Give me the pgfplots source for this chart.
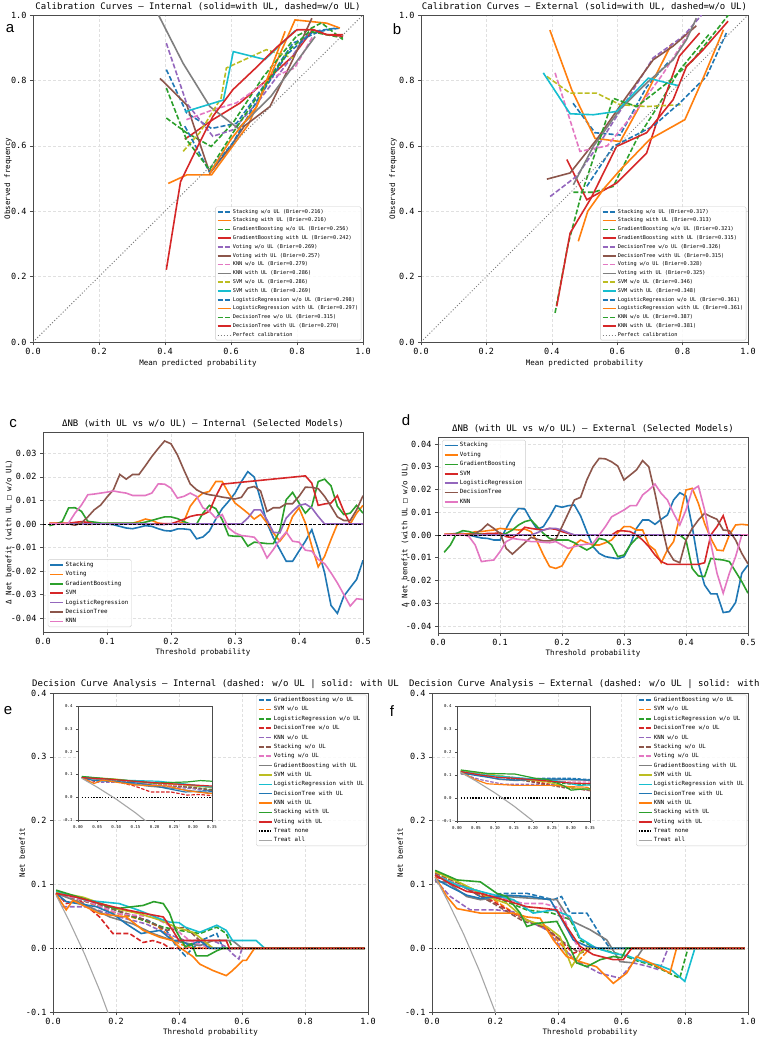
\documentclass[border=0pt]{standalone}
\usepackage{pgfplots}
\pgfplotsset{compat=1.18}
\usepackage{fontspec}
\setmainfont{DejaVu Sans Mono}
\newfontfamily\lsans{Liberation Sans}
\newcommand\fs[1]{\fontsize{#1}{#1}\selectfont}
\definecolor{C0}{HTML}{1F77B4}
\definecolor{C1}{HTML}{FF7F0E}
\definecolor{C2}{HTML}{2CA02C}
\definecolor{C3}{HTML}{D62728}
\definecolor{C4}{HTML}{9467BD}
\definecolor{C5}{HTML}{8C564B}
\definecolor{C6}{HTML}{E377C2}
\definecolor{C7}{HTML}{7F7F7F}
\definecolor{C8}{HTML}{BCBD22}
\definecolor{C9}{HTML}{17BECF}
\pgfplotsset{
  sol/.style={line width=1.6pt},
  das/.style={line width=1.6pt, dash pattern=on 5pt off 2.2pt},
  px/.style={x tick label style={/pgf/number format/fixed, /pgf/number format/fixed zerofill, /pgf/number format/precision=#1}},
  py/.style={y tick label style={/pgf/number format/fixed, /pgf/number format/fixed zerofill, /pgf/number format/precision=#1}},
  base/.style={
    scale only axis, scaled ticks=false,
    axis line style={black!70, line width=0.8pt},
    tick style={black!70, line width=0.6pt},
    tick align=outside, major tick length=3pt, tick pos=left,
    grid=major, grid style={densely dashed, black!12, line width=0.4pt},
    /pgf/number format/assume math mode=true,
    tick label style={font=\fs{8.5}},
    label style={font=\fs{7.5}},
    title style={font=\fs{9}, at={(axis description cs:0.5,1)}, anchor=center, yshift=2pt},
    legend cell align=left,
    legend image code/.code={\draw[##1] (0pt,0pt) -- (13pt,0pt);},
  },
  lg/.style={legend style={font=\fs{#1}, draw=black!20, fill=white, fill opacity=0.85, text opacity=1,
     rounded corners=1.5pt, inner sep=1.5pt, row sep=1.6pt,
     nodes={inner xsep=1.5pt, inner ysep=1pt, text height=0.75*#1 pt, text depth=0.25*#1 pt}}},
  inset/.style={scale only axis, scaled ticks=false, axis background/.style={fill=white},
    axis line style={black!70,line width=0.6pt}, tick style={black!70, line width=0.4pt},
    tick align=outside, major tick length=2pt, tick pos=left,
    tick label style={font=\fs{4}}, /pgf/number format/assume math mode=true,
    xmin=0,xmax=0.35,ymin=-0.1,ymax=0.4,
    xtick={0,0.05,0.1,0.15,0.2,0.25,0.3,0.35}, ytick={-0.1,0,0.1,0.2,0.3,0.4},
    px=2, py=1,
    sol/.style={line width=1.2pt}, das/.style={line width=1.2pt, dash pattern=on 3.5pt off 1.6pt}},
}
% ---------- DCA internal ----------
\newcommand\dcaE{%
\addplot[das,C0] coordinates {(0.01,0.086)(0.05,0.08)(0.1,0.074)(0.2,0.055)(0.3,0.044)(0.36,0.028)(0.39,0.004)(0.42,-0.012)(0.444,0)(0.47,0.012)(0.52,0.023)(0.54,0)(0.99,0)};
\addplot[das,C1] coordinates {(0.01,0.087)(0.1,0.074)(0.2,0.055)(0.286,0.044)(0.33,0.035)(0.36,0.023)(0.4,0.007)(0.444,0)(0.99,0)};
\addplot[das,C2] coordinates {(0.01,0.088)(0.12,0.074)(0.25,0.05)(0.35,0.033)(0.4,0.028)(0.466,0.023)(0.52,0.033)(0.55,0.023)(0.57,0)(0.99,0)};
\addplot[das,C3] coordinates {(0.01,0.087)(0.042,0.07)(0.085,0.075)(0.148,0.049)(0.19,0.023)(0.243,0.023)(0.286,0.009)(0.317,0.012)(0.35,0.007)(0.37,0)(0.99,0)};
\addplot[das,C4] coordinates {(0.01,0.086)(0.032,0.065)(0.106,0.065)(0.21,0.049)(0.296,0.038)(0.36,0.023)(0.42,0.012)(0.508,0.012)(0.55,0.002)(0.57,-0.009)(0.59,-0.017)(0.6,0)(0.99,0)};
\addplot[das,C5] coordinates {(0.01,0.086)(0.1,0.074)(0.2,0.06)(0.296,0.044)(0.36,0.028)(0.42,0.033)(0.466,0.012)(0.508,0)(0.99,0)};
\addplot[das,C6] coordinates {(0.01,0.086)(0.106,0.074)(0.21,0.054)(0.317,0.049)(0.38,0.033)(0.434,0.012)(0.476,0.004)(0.508,0)(0.99,0)};
\addplot[sol,C7] coordinates {(0.01,0.086)(0.095,0.07)(0.18,0.049)(0.254,0.038)(0.317,0.023)(0.38,0.012)(0.466,0.004)(0.508,0.012)(0.57,0.012)(0.6,0)(0.99,0)};
\addplot[sol,C8] coordinates {(0.01,0.088)(0.095,0.08)(0.2,0.062)(0.275,0.054)(0.34,0.044)(0.39,0.033)(0.444,0.025)(0.466,0.017)(0.508,0)(0.99,0)};
\addplot[sol,C9] coordinates {(0.01,0.09)(0.106,0.075)(0.21,0.07)(0.275,0.059)(0.34,0.046)(0.37,0.041)(0.4,0.04)(0.42,0.033)(0.466,0.025)(0.52,0.036)(0.55,0.028)(0.57,0.012)(0.645,0.012)(0.672,0)(0.99,0)};
\addplot[sol,C0] coordinates {(0.01,0.086)(0.042,0.073)(0.138,0.065)(0.19,0.054)(0.233,0.038)(0.28,0.023)(0.34,0.028)(0.38,0.012)(0.407,0.012)(0.434,0.004)(0.466,0.012)(0.497,0)(0.99,0)};
\addplot[sol,C1] coordinates {(0.01,0.085)(0.042,0.06)(0.063,0.075)(0.148,0.054)(0.233,0.049)(0.286,0.028)(0.34,0.017)(0.38,0.012)(0.4,0.002)(0.444,-0.013)(0.466,-0.025)(0.508,-0.035)(0.55,-0.043)(0.57,-0.035)(0.603,-0.019)(0.614,-0.019)(0.64,0)(0.99,0)};
\addplot[sol,C2] coordinates {(0.01,0.091)(0.095,0.078)(0.2,0.062)(0.286,0.067)(0.32,0.073)(0.35,0.07)(0.37,0.055)(0.39,0.028)(0.42,0.002)(0.44,0.007)(0.455,-0.012)(0.49,-0.012)(0.52,-0.004)(0.54,0)(0.99,0)};
\addplot[sol,C3] coordinates {(0.01,0.086)(0.074,0.08)(0.148,0.07)(0.233,0.06)(0.296,0.054)(0.35,0.049)(0.38,0.028)(0.4,0.012)(0.487,0.012)(0.55,0.012)(0.56,0)(0.99,0)};
\addplot[black, line width=1.3pt, dash pattern=on 1.3pt off 1.6pt] coordinates {(0.01,0)(0.99,0)};
\addplot[black!35, line width=1.1pt] coordinates {(0.01,0.0828)(0.05,0.0442)(0.1,-0.0089)(0.15,-0.0683)(0.2,-0.135)(0.25,-0.2107)(0.3,-0.297)(0.35,-0.397)};
}
% ---------- DCA external ----------
\newcommand\dcaF{%
\addplot[das,C0] coordinates {(0.01,0.107)(0.1,0.096)(0.153,0.081)(0.226,0.086)(0.3,0.086)(0.384,0.076)(0.41,0.081)(0.437,0.055)(0.49,0.055)(0.53,0.023)(0.563,0)(0.99,0)};
\addplot[das,C1] coordinates {(0.01,0.118)(0.11,0.096)(0.195,0.076)(0.279,0.049)(0.363,0.029)(0.405,0.008)(0.458,-0.023)(0.5,0)(0.99,0)};
\addplot[das,C2] coordinates {(0.01,0.115)(0.1,0.098)(0.2,0.08)(0.3,0.06)(0.38,0.055)(0.437,0.045)(0.47,0.012)(0.52,0)(0.6,-0.01)(0.65,-0.02)(0.7,-0.027)(0.784,-0.047)(0.81,0)(0.99,0)};
\addplot[das,C3] coordinates {(0.01,0.112)(0.11,0.096)(0.183,0.076)(0.279,0.049)(0.363,0.031)(0.405,0.013)(0.447,-0.008)(0.49,0)(0.99,0)};
\addplot[das,C4] coordinates {(0.01,0.107)(0.058,0.081)(0.121,0.06)(0.205,0.06)(0.258,0.057)(0.3,0.044)(0.363,0.029)(0.405,0.003)(0.468,-0.023)(0.53,-0.039)(0.595,-0.047)(0.637,-0.023)(0.68,-0.028)(0.72,-0.034)(0.747,0)(0.99,0)};
\addplot[das,C5] coordinates {(0.01,0.117)(0.1,0.096)(0.195,0.07)(0.29,0.042)(0.353,0.034)(0.405,0.013)(0.468,-0.008)(0.51,0)(0.99,0)};
\addplot[das,C6] coordinates {(0.01,0.115)(0.1,0.096)(0.205,0.081)(0.29,0.07)(0.353,0.07)(0.405,0.063)(0.437,0.023)(0.468,-0.003)(0.49,0)(0.99,0)};
\addplot[sol,C7] coordinates {(0.01,0.104)(0.047,0.104)(0.11,0.081)(0.153,0.076)(0.237,0.081)(0.32,0.078)(0.395,0.076)(0.437,0.044)(0.5,0.029)(0.553,0.013)(0.595,-0.021)(0.637,-0.023)(0.668,0)(0.99,0)};
\addplot[sol,C8] coordinates {(0.01,0.12)(0.1,0.1)(0.174,0.081)(0.237,0.07)(0.3,0.044)(0.363,0.034)(0.405,0.018)(0.442,-0.029)(0.468,-0.008)(0.49,0)(0.99,0)};
\addplot[sol,C9] coordinates {(0.01,0.115)(0.079,0.099)(0.153,0.089)(0.258,0.076)(0.32,0.055)(0.384,0.06)(0.437,0.05)(0.468,0.016)(0.52,0)(0.574,-0.008)(0.62,-0.012)(0.66,-0.02)(0.72,-0.027)(0.76,-0.035)(0.8,-0.052)(0.832,0)(0.99,0)};
\addplot[sol,C0] coordinates {(0.01,0.109)(0.058,0.096)(0.11,0.083)(0.153,0.078)(0.237,0.083)(0.31,0.081)(0.374,0.076)(0.405,0.05)(0.447,0.013)(0.49,0.003)(0.53,0)(0.99,0)};
\addplot[sol,C1] coordinates {(0.01,0.112)(0.047,0.081)(0.079,0.062)(0.153,0.055)(0.258,0.055)(0.3,0.049)(0.342,0.047)(0.384,0.013)(0.426,-0.013)(0.468,-0.021)(0.52,-0.029)(0.574,-0.055)(0.616,-0.039)(0.647,-0.013)(0.7,-0.025)(0.753,-0.039)(0.774,0)(0.99,0)};
\addplot[sol,C2] coordinates {(0.01,0.122)(0.079,0.107)(0.153,0.104)(0.205,0.086)(0.237,0.081)(0.279,0.055)(0.3,0.034)(0.332,0.039)(0.395,0.042)(0.426,0.013)(0.458,-0.023)(0.49,-0.029)(0.532,-0.018)(0.574,-0.013)(0.6,-0.015)(0.616,0)(0.99,0)};
\addplot[sol,C3] coordinates {(0.01,0.115)(0.058,0.101)(0.11,0.089)(0.153,0.086)(0.226,0.076)(0.3,0.065)(0.363,0.062)(0.395,0.06)(0.426,0.034)(0.468,0.003)(0.51,-0.01)(0.574,-0.018)(0.605,-0.018)(0.632,0)(0.99,0)};
\addplot[black, line width=1.3pt, dash pattern=on 1.3pt off 1.6pt] coordinates {(0.01,0)(0.99,0)};
\addplot[black!35, line width=1.1pt] coordinates {(0.01,0.1111)(0.05,0.0737)(0.1,0.0222)(0.15,-0.0353)(0.2,-0.1)(0.25,-0.1733)(0.3,-0.2571)(0.35,-0.3538)};
}
\begin{document}
\begin{tikzpicture}[x=1pt,y=1pt]
\path[use as bounding box] (0,0) rectangle (760,-1039);
% ================= a =================
\begin{axis}[base, at={(33pt,-15pt)}, anchor=north west, width=330pt, height=327pt,
  xmin=0,xmax=1,ymin=0,ymax=1, xtick={0,0.2,0.4,0.6,0.8,1}, ytick={0,0.2,0.4,0.6,0.8,1},
  px=1, py=1,
  title={Calibration Curves — Internal (solid=with UL, dashed=w/o UL)},
  xlabel={Mean predicted probability}, ylabel={Observed frequency},
  xlabel style={at={(axis description cs:0.5,-0.0642)}, anchor=center},
  ylabel style={at={(axis description cs:-0.0758,0.5)}, anchor=center},
  lg=5.2, legend style={at={(0.995,0.005)}, anchor=south east}]
\addplot[das,C0] coordinates {(0.404,0.833)(0.466,0.70)(0.541,0.653)(0.617,0.669)(0.697,0.78)(0.788,0.914)(0.869,0.95)(0.929,0.96)};
\addlegendentry{Stacking w/o UL (Brier=0.216)}
\addplot[sol,C1] coordinates {(0.41,0.485)(0.466,0.511)(0.541,0.511)(0.652,0.664)(0.718,0.811)(0.794,0.985)(0.89,0.975)(0.93,0.96)};
\addlegendentry{Stacking with UL (Brier=0.216)}
\addplot[das,C2] coordinates {(0.404,0.685)(0.465,0.64)(0.54,0.598)(0.606,0.67)(0.697,0.81)(0.798,0.935)(0.874,0.976)(0.939,0.925)};
\addlegendentry{GradientBoosting w/o UL (Brier=0.256)}
\addplot[sol,C3] coordinates {(0.46,0.62)(0.545,0.68)(0.626,0.73)(0.707,0.80)(0.788,0.875)(0.848,0.955)(0.889,0.94)(0.94,0.94)};
\addlegendentry{GradientBoosting with UL (Brier=0.242)}
\addplot[das,C4] coordinates {(0.404,0.914)(0.465,0.731)(0.545,0.629)(0.606,0.649)(0.687,0.741)(0.778,0.863)(0.838,0.95)};
\addlegendentry{Voting w/o UL (Brier=0.269)}
\addplot[sol,C5] coordinates {(0.385,0.806)(0.466,0.725)(0.536,0.516)(0.6,0.6)(0.64,0.66)(0.718,0.72)(0.784,0.857)(0.845,0.99)};
\addlegendentry{Voting with UL (Brier=0.257)}
\addplot[das,C6] coordinates {(0.465,0.68)(0.545,0.71)(0.616,0.731)(0.727,0.81)(0.793,0.838)(0.848,0.935)};
\addlegendentry{KNN w/o UL (Brier=0.279)}
\addplot[sol,C7] coordinates {(0.36,1.04)(0.455,0.852)(0.536,0.72)(0.622,0.653)(0.72,0.75)(0.855,0.934)};
\addlegendentry{KNN with UL (Brier=0.286)}
\addplot[das,C8] coordinates {(0.455,0.583)(0.505,0.64)(0.57,0.746)(0.586,0.838)(0.707,0.894)(0.788,0.868)};
\addlegendentry{SVM w/o UL (Brier=0.286)}
\addplot[sol,C9] coordinates {(0.46,0.704)(0.577,0.74)(0.607,0.888)(0.703,0.864)(0.794,0.952)};
\addlegendentry{SVM with UL (Brier=0.269)}
\addplot[das,C0] coordinates {(0.46,0.66)(0.535,0.52)(0.606,0.61)(0.68,0.74)(0.77,0.88)(0.85,0.95)(0.92,0.96)};
\addlegendentry{LogisticRegression w/o UL (Brier=0.298)}
\addplot[sol,C1] coordinates {(0.535,0.515)(0.6,0.62)(0.678,0.72)(0.764,0.95)};
\addlegendentry{LogisticRegression with UL (Brier=0.297)}
\addplot[das,C2] coordinates {(0.404,0.777)(0.465,0.619)(0.535,0.527)(0.606,0.64)(0.687,0.761)(0.778,0.894)(0.838,0.95)(0.939,0.93)};
\addlegendentry{DecisionTree w/o UL (Brier=0.315)}
\addplot[sol,C3] coordinates {(0.404,0.221)(0.447,0.49)(0.5,0.6)(0.545,0.69)(0.606,0.772)(0.677,0.84)(0.737,0.90)(0.80,0.955)(0.85,0.955)(0.89,0.94)(0.94,0.935)};
\addlegendentry{DecisionTree with UL (Brier=0.270)}
\addplot[black!50, line width=1pt, dash pattern=on 1pt off 2pt] coordinates {(0,0)(1,1)};
\addlegendentry{Perfect calibration}
\end{axis}
% ================= b =================
\begin{axis}[base, at={(421pt,-15pt)}, anchor=north west, width=327pt, height=327pt,
  xmin=0,xmax=1,ymin=0,ymax=1, xtick={0,0.2,0.4,0.6,0.8,1}, ytick={0,0.2,0.4,0.6,0.8,1},
  px=1, py=1,
  title={Calibration Curves — External (solid=with UL, dashed=w/o UL)},
  xlabel={Mean predicted probability}, ylabel={Observed frequency},
  xlabel style={at={(axis description cs:0.5,-0.0642)}, anchor=center},
  ylabel style={at={(axis description cs:-0.0856,0.5)}, anchor=center},
  lg=5.2, legend style={at={(0.995,0.005)}, anchor=south east}]
\addplot[das,C0] coordinates {(0.465,0.73)(0.532,0.64)(0.609,0.633)(0.69,0.78)(0.76,0.86)};
\addlegendentry{Stacking w/o UL (Brier=0.317)}
\addplot[sol,C1] coordinates {(0.394,0.954)(0.461,0.771)(0.532,0.623)(0.609,0.613)(0.69,0.76)(0.767,0.913)};
\addlegendentry{Stacking with UL (Brier=0.313)}
\addplot[das,C2] coordinates {(0.466,0.458)(0.527,0.458)(0.588,0.476)(0.66,0.62)(0.73,0.73)(0.79,0.83)(0.88,0.94)};
\addlegendentry{GradientBoosting w/o UL (Brier=0.321)}
\addplot[sol,C3] coordinates {(0.446,0.558)(0.507,0.435)(0.598,0.486)(0.69,0.578)(0.75,0.761)(0.79,0.874)(0.852,0.945)};
\addlegendentry{GradientBoosting with UL (Brier=0.315)}
\addplot[das,C4] coordinates {(0.395,0.445)(0.476,0.507)(0.547,0.609)(0.63,0.74)(0.71,0.869)(0.802,0.935)(0.858,1.0)};
\addlegendentry{DecisionTree w/o UL (Brier=0.326)}
\addplot[sol,C5] coordinates {(0.385,0.498)(0.456,0.517)(0.537,0.619)(0.629,0.751)(0.71,0.863)(0.771,0.905)(0.842,0.967)};
\addlegendentry{DecisionTree with UL (Brier=0.315)}
\addplot[das,C6] coordinates {(0.41,0.823)(0.486,0.583)(0.57,0.6)(0.66,0.71)(0.74,0.82)(0.82,0.945)};
\addlegendentry{Voting w/o UL (Brier=0.328)}
\addplot[sol,C7] coordinates {(0.466,0.481)(0.527,0.598)(0.608,0.711)(0.69,0.792)(0.771,0.863)(0.812,0.925)(0.842,0.99)};
\addlegendentry{Voting with UL (Brier=0.325)}
\addplot[das,C8] coordinates {(0.385,0.812)(0.456,0.761)(0.537,0.761)(0.608,0.726)(0.69,0.72)(0.797,0.726)};
\addlegendentry{SVM w/o UL (Brier=0.346)}
\addplot[sol,C9] coordinates {(0.374,0.823)(0.456,0.698)(0.527,0.695)(0.598,0.705)(0.695,0.807)(0.786,0.784)};
\addlegendentry{SVM with UL (Brier=0.348)}
\addplot[das,C0] coordinates {(0.507,0.476)(0.588,0.598)(0.71,0.66)(0.79,0.73)(0.873,0.812)(0.934,0.945)};
\addlegendentry{LogisticRegression w/o UL (Brier=0.361)}
\addplot[sol,C1] coordinates {(0.481,0.308)(0.51,0.40)(0.56,0.47)(0.609,0.526)(0.70,0.62)(0.807,0.68)(0.86,0.80)(0.925,0.955)};
\addlegendentry{LogisticRegression with UL (Brier=0.361)}
\addplot[das,C2] coordinates {(0.41,0.089)(0.45,0.30)(0.49,0.45)(0.54,0.60)(0.588,0.745)(0.66,0.72)(0.75,0.79)(0.83,0.86)(0.94,1.0)};
\addlegendentry{KNN w/o UL (Brier=0.387)}
\addplot[sol,C3] coordinates {(0.415,0.109)(0.456,0.333)(0.52,0.44)(0.598,0.598)(0.69,0.64)(0.771,0.741)(0.812,0.843)(0.863,0.894)(0.939,0.981)};
\addlegendentry{KNN with UL (Brier=0.381)}
\addplot[black!50, line width=1pt, dash pattern=on 1pt off 2pt] coordinates {(0,0)(1,1)};
\addlegendentry{Perfect calibration}
\end{axis}
% ================= c =================
\begin{axis}[base, at={(43pt,-432pt)}, anchor=north west, width=320pt, height=200pt,
  xmin=0,xmax=0.5,ymin=-0.0458,ymax=0.039, xtick={0,0.1,0.2,0.3,0.4,0.5},
  ytick={-0.04,-0.03,-0.02,-0.01,0,0.01,0.02,0.03},
  px=1, py=2,
  title={ΔNB (with UL vs w/o UL) — Internal (Selected Models)},
  xlabel={Threshold probability}, ylabel={Δ Net benefit (with UL □ w/o UL)},
  xlabel style={at={(axis description cs:0.5,-0.1)}, anchor=center},
  ylabel style={at={(axis description cs:-0.106,0.5)}, anchor=center},
  lg=5.8, legend style={at={(0.015,0.025)}, anchor=south west}]
\addplot[sol,C0] coordinates {(0.01,0)(0.06,0)(0.07,0.0002)(0.08,0.0002)(0.09,0.0001)(0.10,0)(0.11,-0.0003)(0.12,-0.001)(0.13,-0.0017)(0.14,-0.002)(0.15,-0.0014)(0.16,-0.0007)(0.17,-0.001)(0.18,-0.002)(0.19,-0.0028)(0.20,-0.003)(0.21,-0.0021)(0.22,-0.0021)(0.23,-0.0024)(0.24,-0.0063)(0.25,-0.0055)(0.26,-0.003)(0.27,0.0021)(0.28,0.0065)(0.29,0.0096)(0.30,0.0131)(0.31,0.018)(0.32,0.0222)(0.33,0.0199)(0.34,0.0103)(0.35,0.0004)(0.36,-0.0059)(0.37,-0.0108)(0.38,-0.0158)(0.39,-0.0158)(0.40,-0.0115)(0.41,-0.0073)(0.42,-0.0024)(0.43,-0.0108)(0.44,-0.0207)(0.45,-0.0345)(0.46,-0.0379)(0.47,-0.0306)(0.48,-0.027)(0.49,-0.0235)(0.50,-0.0154)};
\addlegendentry{Stacking}
\addplot[sol,C1] coordinates {(0.01,0.0003)(0.05,0.0004)(0.07,-0.0002)(0.1,0.0002)(0.14,0.0003)(0.15,0.0011)(0.16,0.0021)(0.17,0.0015)(0.18,0.0004)(0.19,0)(0.21,0)(0.22,0.001)(0.23,0.0075)(0.24,0.011)(0.25,0.0131)(0.26,0.0138)(0.27,0.018)(0.28,0.018)(0.29,0.0131)(0.30,0.0089)(0.31,0.0068)(0.32,0.0046)(0.33,0.0021)(0.34,0.004)(0.35,0.0004)(0.36,-0.0038)(0.37,-0.0073)(0.38,-0.0038)(0.39,0.0032)(0.40,0.0068)(0.41,0.0004)(0.42,-0.0094)(0.43,-0.0182)(0.44,-0.0137)(0.45,-0.0066)(0.46,0)(0.48,0)(0.49,0.0046)(0.50,0.0079)};
\addlegendentry{Voting}
\addplot[sol,C2] coordinates {(0.01,-0.0007)(0.02,0)(0.03,0.001)(0.04,0.0068)(0.05,0.0069)(0.06,0.0054)(0.07,0.0011)(0.08,0.0008)(0.09,0.0004)(0.15,0.0003)(0.16,0.0008)(0.17,0.0015)(0.18,0.0023)(0.19,0.003)(0.20,0.003)(0.21,0.0023)(0.22,0.001)(0.23,0)(0.24,0)(0.25,0.0046)(0.26,0.0079)(0.27,0.0065)(0.28,0.0018)(0.29,-0.0049)(0.30,-0.0052)(0.31,-0.0052)(0.32,-0.0094)(0.33,-0.0077)(0.34,-0.008)(0.35,-0.0083)(0.36,-0.0083)(0.37,-0.0027)(0.38,0.0103)(0.39,0.0134)(0.40,0.0089)(0.41,0.0046)(0.42,0.0075)(0.43,0.018)(0.44,0.019)(0.45,0.0162)(0.46,0.0075)(0.47,0.004)(0.48,0.0046)(0.49,0.0079)(0.50,0.0046)};
\addlegendentry{GradientBoosting}
\addplot[sol,C3] coordinates {(0.01,0.0002)(0.04,0.0003)(0.05,0.0007)(0.06,0.001)(0.07,0.0007)(0.08,0)(0.20,0.0001)(0.21,0.001)(0.22,0.002)(0.23,0.0032)(0.24,0.0038)(0.25,0.004)(0.26,0.0054)(0.27,0.0117)(0.28,0.0169)(0.41,0.0204)(0.42,0.0173)(0.43,0.0079)(0.44,0.0085)(0.45,0.0089)(0.46,0.012)(0.47,0.0054)(0.48,0)(0.50,0)};
\addlegendentry{SVM}
\addplot[sol,C4] coordinates {(0.01,0)(0.17,0)(0.18,-0.0003)(0.19,-0.0002)(0.2,0)(0.31,0)(0.32,0.0025)(0.33,0.006)(0.34,0.006)(0.35,0.0018)(0.36,-0.0035)(0.37,-0.0038)(0.38,0.0025)(0.39,0.0054)(0.40,0.0079)(0.41,0.0085)(0.42,0.0068)(0.43,0.0032)(0.44,0)(0.50,0)};
\addlegendentry{LogisticRegression}
\addplot[sol,C5] coordinates {(0.01,0)(0.04,0)(0.05,-0.0005)(0.06,0.0004)(0.07,0.003)(0.08,0.006)(0.09,0.008)(0.10,0.0114)(0.11,0.0145)(0.12,0.021)(0.13,0.019)(0.14,0.021)(0.15,0.021)(0.16,0.0247)(0.17,0.0286)(0.18,0.032)(0.19,0.0352)(0.20,0.034)(0.21,0.0293)(0.22,0.023)(0.23,0.017)(0.24,0.0145)(0.25,0.0131)(0.26,0.0124)(0.27,0.012)(0.28,0.0114)(0.29,0.011)(0.30,0.0106)(0.31,0.0113)(0.32,0.0152)(0.33,0.0159)(0.34,0.014)(0.35,0.0053)(0.36,0.0069)(0.37,0.0069)(0.38,0.0086)(0.39,0.0086)(0.40,0.0117)(0.41,0.0156)(0.42,0.0155)(0.43,0.015)(0.44,0.0117)(0.45,0.0075)(0.46,0.003)(0.47,0.0015)(0.48,0.0015)(0.49,0.006)(0.50,0.012)};
\addlegendentry{DecisionTree}
\addplot[sol,C6] coordinates {(0.01,0)(0.03,0)(0.04,0.0004)(0.05,0.0046)(0.06,0.008)(0.07,0.0124)(0.08,0.0127)(0.09,0.0131)(0.10,0.0135)(0.11,0.014)(0.12,0.0135)(0.13,0.0131)(0.14,0.0121)(0.15,0.0121)(0.16,0.0121)(0.17,0.0131)(0.18,0.017)(0.19,0.0169)(0.20,0.0152)(0.21,0.011)(0.22,0.0117)(0.23,0.0131)(0.24,0.0117)(0.25,0.0068)(0.26,0.0054)(0.27,0.0025)(0.28,0.004)(0.29,-0.0017)(0.30,-0.0038)(0.31,-0.0049)(0.32,-0.0052)(0.33,-0.0056)(0.34,-0.0087)(0.35,-0.0144)(0.36,-0.0108)(0.37,-0.0066)(0.38,-0.0034)(0.39,-0.0073)(0.40,-0.0077)(0.41,-0.0111)(0.42,-0.0115)(0.43,-0.015)(0.44,-0.0168)(0.45,-0.0207)(0.46,-0.025)(0.47,-0.0299)(0.48,-0.0348)(0.49,-0.0317)(0.50,-0.032)};
\addlegendentry{KNN}
\addplot[black, line width=0.9pt, dash pattern=on 3pt off 1.5pt, forget plot] coordinates {(0,0)(0.5,0)};
\end{axis}
% ================= d =================
\begin{axis}[base, at={(438pt,-437pt)}, anchor=north west, width=310pt, height=196pt,
  xmin=0,xmax=0.5,ymin=-0.0431,ymax=0.0431, xtick={0,0.1,0.2,0.3,0.4,0.5},
  ytick={-0.04,-0.03,-0.02,-0.01,0,0.01,0.02,0.03,0.04},
  px=1, py=2,
  title={ΔNB (with UL vs w/o UL) — External (Selected Models)},
  xlabel={Threshold probability}, ylabel={Δ Net benefit (with UL □ w/o UL)},
  xlabel style={at={(axis description cs:0.5,-0.102)}, anchor=center},
  ylabel style={at={(axis description cs:-0.106,0.5)}, anchor=center},
  lg=5.8, legend style={at={(0.013,0.985)}, anchor=north west}]
\addplot[sol,C0] coordinates {(0.01,0)(0.02,0.0004)(0.03,0.0007)(0.04,0.0007)(0.05,0)(0.06,-0.0007)(0.07,-0.0013)(0.08,-0.0015)(0.09,-0.0022)(0.10,-0.0022)(0.11,0.0029)(0.12,0.008)(0.13,0.0117)(0.14,0.0114)(0.15,0.0066)(0.16,0.0025)(0.17,0.0037)(0.18,0.008)(0.19,0.0129)(0.20,0.0122)(0.21,0.0129)(0.22,0.0132)(0.23,0.0084)(0.24,0.0015)(0.25,-0.0051)(0.26,-0.0081)(0.27,-0.0095)(0.28,-0.01)(0.29,-0.0104)(0.30,-0.0095)(0.31,-0.0044)(0.32,0.0029)(0.33,0.0066)(0.34,0.0066)(0.35,0.0047)(0.36,0.0069)(0.37,0.0088)(0.38,0.0154)(0.39,0.0186)(0.40,0.0171)(0.41,0.0037)(0.42,-0.0125)(0.43,-0.022)(0.44,-0.0259)(0.45,-0.0259)(0.46,-0.0341)(0.47,-0.0337)(0.48,-0.0297)(0.49,-0.0168)(0.50,-0.0132)};
\addlegendentry{Stacking}
\addplot[sol,C1] coordinates {(0.01,0.0003)(0.05,0.0005)(0.06,0.0015)(0.07,0.0015)(0.08,0.0019)(0.09,0.0022)(0.10,0.0029)(0.11,0.0026)(0.12,0.0025)(0.13,0.0022)(0.14,0.0026)(0.15,0.0015)(0.16,-0.0029)(0.17,-0.0088)(0.18,-0.0139)(0.19,-0.0147)(0.20,-0.0136)(0.21,-0.0088)(0.22,-0.0044)(0.23,-0.0022)(0.24,-0.0034)(0.25,-0.0044)(0.26,-0.0044)(0.27,-0.0034)(0.28,-0.0022)(0.29,0.001)(0.30,0.0037)(0.31,0.0037)(0.32,0.0022)(0.33,0.0022)(0.34,-0.0044)(0.35,-0.0066)(0.36,-0.0122)(0.37,-0.0066)(0.38,-0.0029)(0.39,0.008)(0.40,0.0198)(0.41,0.0205)(0.42,0.0139)(0.43,0.0051)(0.44,-0.0015)(0.45,-0.0066)(0.46,-0.0069)(0.47,0)(0.48,0.0044)(0.49,0.0047)(0.50,0.0044)};
\addlegendentry{Voting}
\addplot[sol,C2] coordinates {(0.01,-0.0076)(0.02,-0.0044)(0.03,0.0007)(0.04,0.0019)(0.05,0.0015)(0.06,0.0007)(0.07,0.0004)(0.08,0.0004)(0.09,0.0004)(0.10,0)(0.11,0.0007)(0.12,0.0022)(0.13,0.0044)(0.14,0.0059)(0.15,0.0066)(0.16,0.0037)(0.17,0.0007)(0.18,-0.0015)(0.19,-0.0022)(0.20,-0.0022)(0.21,-0.0022)(0.22,-0.0034)(0.23,-0.0051)(0.24,-0.0066)(0.25,-0.0051)(0.26,-0.0015)(0.27,-0.0022)(0.28,-0.0044)(0.29,-0.0095)(0.30,-0.0088)(0.31,-0.0044)(0.32,-0.0015)(0.33,0)(0.39,0)(0.40,-0.0022)(0.41,-0.0147)(0.42,-0.018)(0.43,-0.0183)(0.44,-0.0103)(0.45,-0.0107)(0.46,-0.011)(0.47,-0.0117)(0.48,-0.0161)(0.49,-0.0205)(0.50,-0.0256)};
\addlegendentry{GradientBoosting}
\addplot[sol,C3] coordinates {(0.01,0.0003)(0.07,0.0003)(0.08,0.0007)(0.09,0.0007)(0.10,0.001)(0.11,-0.0007)(0.12,-0.0012)(0.13,0.0007)(0.14,0.0034)(0.15,0.0029)(0.16,0.0025)(0.17,0.0022)(0.18,0.0029)(0.19,0.0025)(0.20,0.0015)(0.21,0.0007)(0.22,0)(0.28,0)(0.29,0.0018)(0.30,0.0018)(0.31,0.0015)(0.32,0)(0.33,-0.0022)(0.34,-0.0051)(0.35,-0.0088)(0.36,-0.0117)(0.37,-0.0129)(0.42,-0.0129)(0.43,-0.0122)(0.44,0)(0.45,0.0037)(0.46,0.0085)(0.47,0)(0.50,0)};
\addlegendentry{SVM}
\addplot[sol,C4] coordinates {(0.01,0)(0.15,0)(0.16,0.001)(0.17,0.0022)(0.18,0.0029)(0.19,0.0029)(0.20,0.0022)(0.21,0.001)(0.22,0)(0.50,0)};
\addlegendentry{LogisticRegression}
\addplot[sol,C5] coordinates {(0.01,0)(0.05,0)(0.06,0.0007)(0.07,0.0022)(0.08,0.0048)(0.09,0.0029)(0.10,0.0007)(0.11,-0.0059)(0.12,-0.0084)(0.13,-0.0059)(0.14,-0.0034)(0.15,-0.001)(0.16,-0.0019)(0.17,-0.0026)(0.18,-0.0026)(0.19,-0.0019)(0.20,0.0037)(0.21,0.0095)(0.22,0.0154)(0.23,0.0166)(0.24,0.0242)(0.25,0.03)(0.26,0.0337)(0.27,0.0335)(0.28,0.0322)(0.29,0.0303)(0.30,0.0242)(0.31,0.0264)(0.32,0.0286)(0.33,0.0327)(0.34,0.03)(0.35,0.0183)(0.36,0.0051)(0.37,-0.0066)(0.38,-0.011)(0.39,-0.0122)(0.40,-0.0022)(0.41,0.0029)(0.42,0.0066)(0.43,0.0095)(0.44,0.0081)(0.45,0.0069)(0.46,0.0022)(0.47,0.0019)(0.48,-0.0022)(0.49,-0.0081)(0.50,-0.0127)};
\addlegendentry{DecisionTree}
\addplot[sol,C6] coordinates {(0.01,0)(0.03,0)(0.04,0.0003)(0.05,-0.0007)(0.06,-0.0044)(0.07,-0.0117)(0.08,-0.0113)(0.09,-0.011)(0.10,-0.0073)(0.11,-0.0029)(0.12,-0.0015)(0.13,-0.0019)(0.14,-0.0022)(0.15,-0.0029)(0.16,-0.0029)(0.17,-0.0032)(0.18,-0.0034)(0.19,-0.0029)(0.20,-0.0044)(0.21,-0.0059)(0.22,-0.0051)(0.23,-0.0044)(0.24,-0.004)(0.25,-0.0037)(0.26,0)(0.27,0.0037)(0.28,0.008)(0.29,0.0095)(0.30,0.011)(0.31,0.0129)(0.32,0.0129)(0.33,0.0176)(0.34,0.0198)(0.35,0.0224)(0.36,0.0183)(0.37,0.0154)(0.38,0.0095)(0.39,0.0044)(0.40,0.011)(0.41,0.0198)(0.42,0.0215)(0.43,0.011)(0.44,-0.0037)(0.45,-0.0168)(0.46,-0.0256)(0.47,-0.0168)(0.48,-0.0095)(0.49,0)(0.50,0)};
\addlegendentry{KNN}
\addplot[black, line width=0.9pt, dash pattern=on 3pt off 1.5pt, forget plot] coordinates {(0,0)(0.5,0)};
\end{axis}
% ================= e =================
\begin{axis}[base, at={(53pt,-693pt)}, anchor=north west, width=315pt, height=319pt,
  xmin=0,xmax=1,ymin=-0.1,ymax=0.4, xtick={0,0.2,0.4,0.6,0.8,1}, ytick={-0.1,0,0.1,0.2,0.3,0.4},
  px=1, py=1,
  xlabel={Threshold probability}, ylabel={Net benefit},
  xlabel style={at={(axis description cs:0.5,-0.0627)}, anchor=center},
  ylabel style={at={(axis description cs:-0.098,0.5)}, anchor=center},
  lg=5.75, legend style={at={(0.997,0.995)}, anchor=north east},
  legend entries={{GradientBoosting w/o UL},{SVM w/o UL},{LogisticRegression w/o UL},{DecisionTree w/o UL},{KNN w/o UL},{Stacking w/o UL},{Voting w/o UL},{GradientBoosting with UL},{SVM with UL},{LogisticRegression with UL},{DecisionTree with UL},{KNN with UL},{Stacking with UL},{Voting with UL},{Treat none},{Treat all}}]
\dcaE
\end{axis}
\begin{axis}[inset, at={(78pt,-706pt)}, anchor=north west, width=134pt, height=114pt]
\dcaE
\end{axis}
% ================= f =================
\begin{axis}[base, at={(432pt,-693pt)}, anchor=north west, width=316pt, height=319pt,
  xmin=0,xmax=1,ymin=-0.1,ymax=0.4, xtick={0,0.2,0.4,0.6,0.8,1}, ytick={-0.1,0,0.1,0.2,0.3,0.4},
  px=1, py=1,
  xlabel={Threshold probability}, ylabel={Net benefit},
  xlabel style={at={(axis description cs:0.5,-0.0627)}, anchor=center},
  ylabel style={at={(axis description cs:-0.101,0.5)}, anchor=center},
  lg=5.75, legend style={at={(0.997,0.995)}, anchor=north east},
  legend entries={{GradientBoosting w/o UL},{SVM w/o UL},{LogisticRegression w/o UL},{DecisionTree w/o UL},{KNN w/o UL},{Stacking w/o UL},{Voting w/o UL},{GradientBoosting with UL},{SVM with UL},{LogisticRegression with UL},{DecisionTree with UL},{KNN with UL},{Stacking with UL},{Voting with UL},{Treat none},{Treat all}}]
\dcaF
\end{axis}
\begin{axis}[inset, at={(457pt,-706pt)}, anchor=north west, width=133pt, height=115pt]
\dcaF
\end{axis}
% titles of e, f (cut at the panel edge)
\node[anchor=west, font=\fs{9}, inner sep=0pt] at (32,-684) {Decision Curve Analysis — Internal (dashed: w/o UL | solid: with UL};
\node[anchor=west, font=\fs{9}, inner sep=0pt] at (409,-684) {Decision Curve Analysis — External (dashed: w/o UL | solid: with};
% panel letters
\node[font=\lsans\fs{15}] at (10,-29) {a};
\node[font=\lsans\fs{15}] at (397,-29) {b};
\node[font=\lsans\fs{15}] at (13,-424) {c};
\node[font=\lsans\fs{15}] at (406,-420) {d};
\node[font=\lsans\fs{15}] at (8,-711) {e};
\node[font=\lsans\fs{15}] at (392,-711) {f};
\end{tikzpicture}
\end{document}
